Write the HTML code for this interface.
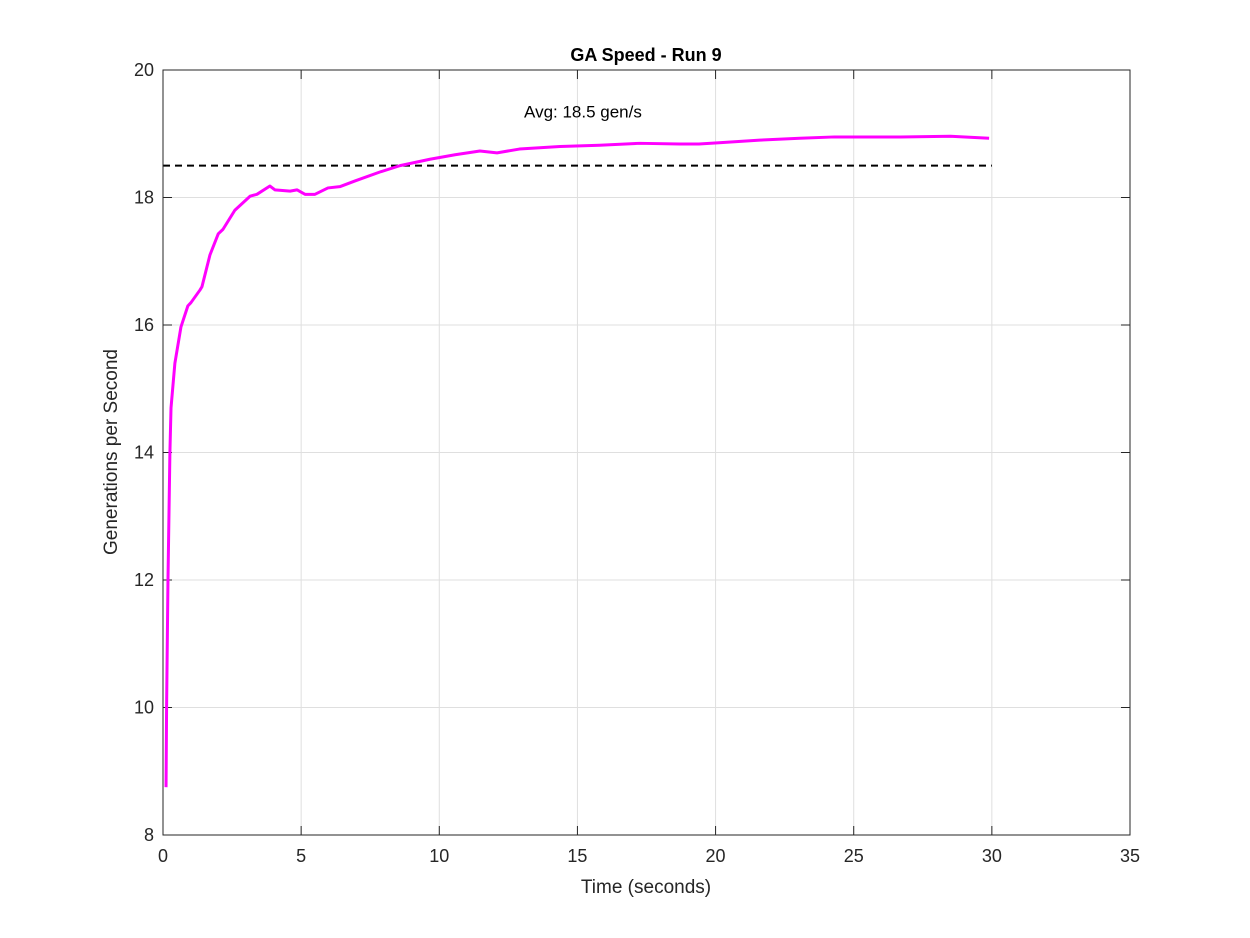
<!DOCTYPE html>
<html><head><meta charset="utf-8"><style>
body{margin:0;background:#fff;}
svg{display:block;font-family:"Liberation Sans",sans-serif;}
</style></head><body>
<svg id="chart" width="1250" height="938">
<rect x="0" y="0" width="1250" height="938" fill="#fff"/>
<g id="grid"></g>
<g id="ticks"></g>
<g id="marks"></g>
<rect x="163" y="70" width="967" height="765" fill="none" stroke="#262626" stroke-width="1"/>
<text x="646" y="61" text-anchor="middle" font-size="18" font-weight="bold" fill="#000">GA Speed - Run 9</text>
<text x="646" y="893" text-anchor="middle" font-size="19" fill="#262626">Time (seconds)</text>
<text transform="translate(117,452) rotate(-90)" text-anchor="middle" font-size="19" fill="#262626">Generations per Second</text>
</svg>
<script>
const xTicks=[0,5,10,15,20,25,30,35];
const yTicks=[8,10,12,14,16,18,20];
const times=[0.11,0.13,0.18,0.25,0.29,0.43,0.65,0.9,1.01,1.34,1.41,1.7,2.0,2.17,2.6,3.15,3.4,3.87,4.05,4.6,4.85,5.14,5.5,5.97,6.4,6.95,7.85,8.58,9.66,10.57,11.47,12.09,12.9,14.37,15.8,17.26,18.7,19.4,20.2,21.6,23.05,24.3,25.2,26.7,28.5,29.9];
const speeds=[8.75,10.0,12.0,14.0,14.7,15.4,15.97,16.3,16.35,16.55,16.6,17.1,17.43,17.5,17.8,18.02,18.05,18.18,18.12,18.1,18.12,18.05,18.05,18.15,18.17,18.26,18.4,18.5,18.6,18.67,18.73,18.7,18.76,18.8,18.82,18.85,18.84,18.84,18.86,18.9,18.93,18.95,18.95,18.95,18.96,18.93];
const avgValue=[18.5];
const avgLabel=["Avg: 18.5 gen/s"];
const NS="http://www.w3.org/2000/svg";
const X=t=>163+t*(967/35), Y=v=>835-(v-8)*(765/12);
function mk(tag,attrs,parent){const e=document.createElementNS(NS,tag);for(const k in attrs)e.setAttribute(k,attrs[k]);parent.appendChild(e);return e;}
const grid=document.getElementById('grid'),ticks=document.getElementById('ticks'),marks=document.getElementById('marks');
xTicks.forEach(t=>{
  const g=mk('line',{x1:X(t),x2:X(t),y1:70,y2:835,stroke:'#dfdfdf','stroke-width':1},grid);
  
  
  mk('line',{x1:X(t),x2:X(t),y1:835,y2:826,stroke:'#262626'},ticks);
  mk('line',{x1:X(t),x2:X(t),y1:70,y2:79,stroke:'#262626'},ticks);
  const tx=mk('text',{x:X(t),y:862,'text-anchor':'middle','font-size':18,fill:'#262626'},ticks);
  tx.textContent=t;
  
  
});
yTicks.forEach(v=>{
  const g=mk('line',{x1:163,x2:1130,y1:Y(v),y2:Y(v),stroke:'#dfdfdf','stroke-width':1},grid);
  
  
  mk('line',{x1:163,x2:172,y1:Y(v),y2:Y(v),stroke:'#262626'},ticks);
  mk('line',{x1:1121,x2:1130,y1:Y(v),y2:Y(v),stroke:'#262626'},ticks);
  const tx=mk('text',{x:154,y:Y(v)+6,'text-anchor':'end','font-size':18,fill:'#262626'},ticks);
  tx.textContent=v;
  
  
});
const av=mk('line',{x1:X(0),x2:X(30),y1:Y(avgValue[0]),y2:Y(avgValue[0]),stroke:'#000','stroke-width':2,'stroke-dasharray':'7,5'},marks);


const lab=mk('text',{x:X(15.2),y:Y(19.35)+6,'text-anchor':'middle','font-size':17,fill:'#000'},marks);
lab.textContent=avgLabel[0];


const pl=mk('polyline',{points:times.map((t,i)=>X(t)+','+Y(speeds[i])).join(' '),fill:'none',stroke:'#ff00ff','stroke-width':3,'stroke-linejoin':'round'},marks);


</script>
</body></html>
